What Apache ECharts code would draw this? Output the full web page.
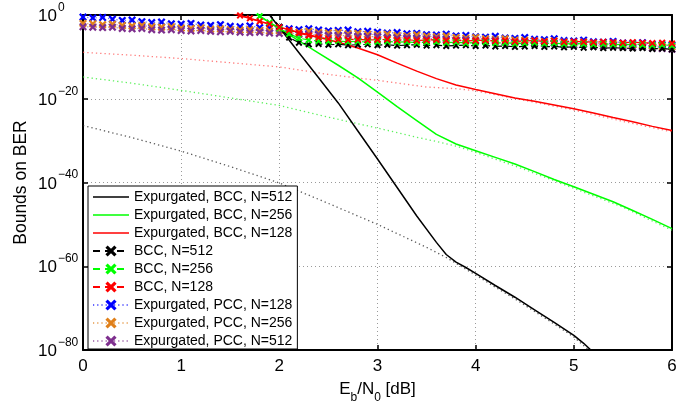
<!DOCTYPE html>
<html>
<head>
<meta charset="utf-8">
<script src="https://cdn.jsdelivr.net/npm/echarts@6/dist/echarts.min.js"></script>
<style>html,body{margin:0;padding:0;background:#fff;}#c{width:699px;height:412px;}</style>
</head>
<body>
<div id="c"></div>
<script>
// ---- data (y values are log10 of the BER bound; the y axis is drawn in decades) ----
const xTicks = [0, 1, 2, 3, 4, 5, 6];
const yTickExps = [0, -20, -40, -60, -80];

const pccX = [0.0,0.1,0.2,0.3,0.4,0.5,0.6,0.7,0.8,0.9,1.0,1.1,1.2,1.3,1.4,1.5,1.6,1.7,1.8,1.9,2.0,2.1,2.2,2.3,2.4,2.5,2.6,2.7,2.8,2.9,3.0,3.1,3.2,3.3,3.4,3.5,3.6,3.7,3.8,3.9,4.0,4.1,4.2,4.3,4.4,4.5,4.6,4.7,4.8,4.9,5.0,5.1,5.2,5.3,5.4,5.5,5.6,5.7,5.8,5.9,6.0];
const pcc128 = [-0.5,-0.7,-0.6,-1.0,-1.3,-1.2,-1.6,-1.8,-1.7,-2.1,-2.2,-2.0,-2.4,-2.5,-2.3,-2.7,-2.8,-2.6,-3.0,-3.1,-3.0,-3.3,-3.5,-3.3,-3.6,-3.8,-3.7,-3.6,-4.0,-3.9,-4.1,-4.3,-4.2,-4.5,-4.4,-4.7,-4.8,-4.6,-5.0,-4.9,-5.2,-5.3,-5.1,-5.5,-5.6,-5.4,-5.8,-5.9,-5.7,-6.1,-6.2,-6.0,-6.4,-6.5,-6.3,-6.7,-6.8,-6.6,-7.0,-7.1,-7.2];
const pcc256 = [-2.0,-2.1,-2.3,-2.2,-2.5,-2.6,-2.5,-2.8,-2.9,-2.8,-3.1,-3.2,-3.1,-3.4,-3.3,-3.5,-3.6,-3.5,-3.7,-3.8,-3.7,-4.0,-4.1,-3.9,-4.2,-4.3,-4.2,-4.5,-4.4,-4.6,-4.7,-4.6,-4.9,-5.0,-4.8,-5.1,-5.2,-5.1,-5.4,-5.5,-5.4,-5.7,-5.8,-5.7,-6.0,-6.0,-6.2,-6.3,-6.2,-6.5,-6.6,-6.5,-6.8,-6.9,-6.8,-7.1,-7.2,-7.1,-7.4,-7.5,-7.6];
const pcc512 = [-2.8,-2.9,-3.0,-2.9,-3.2,-3.3,-3.2,-3.5,-3.6,-3.5,-3.7,-3.8,-3.7,-3.9,-4.0,-3.9,-4.1,-4.2,-4.1,-4.3,-4.4,-4.3,-4.6,-4.7,-4.6,-4.9,-5.0,-4.9,-5.1,-5.2,-5.1,-5.4,-5.5,-5.4,-5.6,-5.7,-5.6,-5.9,-6.0,-5.9,-6.1,-6.2,-6.1,-6.4,-6.5,-6.4,-6.7,-6.8,-6.7,-7.0,-7.1,-7.0,-7.3,-7.4,-7.3,-7.6,-7.7,-7.6,-7.9,-8.0,-8.2];

const bcc512X = [1.8,1.9,2.0,2.1,2.2,2.3,2.4,2.5,2.6,2.7,2.8,2.9,3.0,3.1,3.2,3.3,3.4,3.5,3.6,3.7,3.8,3.9,4.0,4.1,4.2,4.3,4.4,4.5,4.6,4.7,4.8,4.9,5.0,5.1,5.2,5.3,5.4,5.5,5.6,5.7,5.8,5.9,6.0];
const bcc512 = [2.5,0.2,-2.8,-5.4,-6.6,-7.0,-6.9,-7.1,-7.0,-7.2,-7.1,-7.0,-7.2,-7.1,-7.3,-7.2,-7.1,-7.3,-7.2,-7.4,-7.3,-7.2,-7.4,-7.3,-7.5,-7.4,-7.6,-7.5,-7.4,-7.6,-7.5,-7.7,-7.6,-7.8,-7.7,-7.9,-7.8,-7.9,-8.0,-7.9,-8.1,-8.0,-8.2];
const bcc256X = [1.7,1.8,1.9,2.0,2.1,2.2,2.3,2.4,2.5,2.6,2.7,2.8,2.9,3.0,3.1,3.2,3.3,3.4,3.5,3.6,3.7,3.8,3.9,4.0,4.1,4.2,4.3,4.4,4.5,4.6,4.7,4.8,4.9,5.0,5.1,5.2,5.3,5.4,5.5,5.6,5.7,5.8,5.9,6.0];
const bcc256 = [1.2,-0.3,-1.8,-3.2,-4.5,-5.5,-6.0,-6.2,-6.3,-6.2,-6.4,-6.3,-6.5,-6.4,-6.3,-6.5,-6.4,-6.6,-6.5,-6.4,-6.6,-6.5,-6.7,-6.6,-6.5,-6.7,-6.6,-6.8,-6.7,-6.6,-6.8,-6.7,-6.9,-6.8,-6.9,-7.0,-6.9,-7.0,-7.1,-7.0,-7.1,-7.2,-7.1,-7.3];
const bcc128X = [1.5,1.6,1.7,1.8,1.9,2.0,2.1,2.2,2.3,2.4,2.5,2.6,2.7,2.8,2.9,3.0,3.1,3.2,3.3,3.4,3.5,3.6,3.7,3.8,3.9,4.0,4.1,4.2,4.3,4.4,4.5,4.6,4.7,4.8,4.9,5.0,5.1,5.2,5.3,5.4,5.5,5.6,5.7,5.8,5.9,6.0];
const bcc128 = [0.6,-0.1,-0.8,-1.5,-2.2,-2.9,-3.6,-4.3,-4.9,-5.4,-5.7,-5.8,-5.9,-5.8,-6.0,-5.9,-5.8,-6.0,-5.9,-6.1,-6.0,-5.9,-6.1,-6.0,-6.2,-6.1,-6.0,-6.2,-6.1,-6.3,-6.2,-6.1,-6.3,-6.2,-6.4,-6.3,-6.4,-6.5,-6.4,-6.5,-6.6,-6.5,-6.6,-6.7,-6.6,-6.8];

const exp512X = [1.8,1.9,2.0,2.2,2.4,2.6,2.8,3.0,3.2,3.4,3.6,3.7,3.8,3.9,4.0,4.2,4.4,4.6,4.8,5.0,5.1,5.2,5.3];
const exp512 = [3.0,0,-3.0,-9.0,-15.0,-21.0,-27.7,-34.4,-41.2,-48.0,-54.3,-57.2,-59.0,-60.3,-61.7,-64.6,-67.4,-70.4,-73.4,-76.5,-78.4,-80.6,-82.8];
const exp256X = [1.7,1.8,2.0,2.2,2.4,2.6,2.8,3.0,3.2,3.4,3.6,3.8,4.0,4.2,4.4,4.6,4.8,5.0,5.2,5.4,5.6,5.8,6.0];
const exp256 = [1.2,-0.3,-3.2,-6.2,-9.1,-12.0,-15.0,-18.4,-21.9,-25.2,-28.5,-30.8,-32.4,-34.0,-35.6,-37.4,-39.3,-41.0,-42.8,-44.6,-46.7,-48.8,-51.0];
const exp128X = [1.5,1.6,1.8,2.0,2.2,2.4,2.6,2.8,3.0,3.2,3.4,3.6,3.8,4.0,4.2,4.4,4.6,4.8,5.0,5.2,5.4,5.6,5.8,6.0];
const exp128 = [0.6,-0.1,-1.5,-2.9,-4.2,-5.3,-6.5,-7.9,-9.5,-11.5,-13.4,-15.2,-16.7,-17.8,-18.8,-19.8,-20.6,-21.5,-22.4,-23.4,-24.5,-25.5,-26.6,-27.6];

const ub512X = [0,0.5,1,1.5,2,2.5,3,3.5,3.7,3.9,4.0,4.2,4.4,4.6,4.8,5.0,5.2,5.3];
const ub512 = [-26.4,-29.3,-32.5,-36.2,-40.1,-45.0,-50.0,-55.5,-57.9,-60.7,-62.1,-65.0,-67.8,-70.8,-73.8,-76.9,-81.0,-83.0];
const ub256X = [0,0.5,1,1.5,2,2.5,3,3.4,3.6,3.8,4.0,4.5,5,5.5,6];
const ub256 = [-14.8,-16.3,-18.0,-19.8,-21.6,-24.4,-27.0,-29.2,-30.2,-31.3,-32.8,-36.9,-41.4,-45.9,-51.4];
const ub128X = [0,0.5,1,1.5,2,2.5,3,3.5,3.8,4.0,4.5,5,5.5,6];
const ub128 = [-8.9,-9.6,-10.4,-11.4,-12.4,-14.2,-15.6,-17.2,-17.6,-18.1,-20.4,-22.7,-25.4,-27.9];

const legendNames = ['Expurgated, BCC, N=512','Expurgated, BCC, N=256','Expurgated, BCC, N=128',
  'BCC, N=512','BCC, N=256','BCC, N=128',
  'Expurgated, PCC, N=128','Expurgated, PCC, N=256','Expurgated, PCC, N=512'];

// ---- helpers ----
const pts = (xs, es) => xs.map((x, i) => [x, es[i]]);
const FONT = "'Liberation Sans', Arial, Helvetica, sans-serif";
const XMARK = 'path://M0,2 L2,0 L5,3 L8,0 L10,2 L7,5 L10,8 L8,10 L5,7 L2,10 L0,8 L3,5 Z';
const LINEICON = 'path://M0,0 L36,0 L36,1.5 L0,1.5 Z';

function solid(name, xs, es, color) {
  return { name, type: 'line', data: pts(xs, es), showSymbol: false, symbol: 'none', clip: true,
    lineStyle: { color, width: 1.5 }, itemStyle: { color }, z: 4, animation: false };
}
function union(name, xs, es, color, op) {
  return { name, type: 'line', data: pts(xs, es), showSymbol: false, symbol: 'none', clip: true,
    lineStyle: { color, width: 1.3, type: [1.3, 3], opacity: op }, itemStyle: { color }, z: 2, animation: false };
}
function marked(name, xs, es, color, dash, size, z, lineOp) {
  return { name, type: 'line', data: pts(xs, es), symbol: XMARK, symbolSize: size, showAllSymbol: true, clip: true,
    lineStyle: { color, width: 1.2, type: dash, opacity: lineOp }, itemStyle: { color }, z, animation: false };
}

const series = [
  union('ub512', ub512X, ub512, '#222222', 0.75),
  union('ub256', ub256X, ub256, '#33ee33', 0.8),
  union('ub128', ub128X, ub128, '#ff4444', 0.7),
  marked(legendNames[6], pccX, pcc128, '#0000ff', [1.2, 3], 8, 3, 0.6),
  marked(legendNames[7], pccX, pcc256, '#e0801a', [1.2, 3], 8, 3, 0.6),
  marked(legendNames[8], pccX, pcc512, '#7e2f8e', [1.2, 3], 8, 3, 0.6),
  solid(legendNames[0], exp512X, exp512, '#000000'),
  solid(legendNames[1], exp256X, exp256, '#00ff00'),
  solid(legendNames[2], exp128X, exp128, '#ff0000'),
  marked(legendNames[3], bcc512X, bcc512, '#000000', [7, 5], 7, 5, 1),
  marked(legendNames[4], bcc256X, bcc256, '#00ff00', [7, 5], 7, 5, 1),
  marked(legendNames[5], bcc128X, bcc128, '#ff0000', [7, 5], 7, 5, 1)
];

const axisLine = { show: true, onZero: false, lineStyle: { color: '#000', width: 2 } };
const tick = { show: true, inside: true, length: 5, lineStyle: { color: '#000', width: 1.5 } };
const gridLine = { show: true, lineStyle: { color: '#9a9a9a', width: 1, type: [1, 3] } };

const option = {
  animation: false,
  backgroundColor: '#fff',
  textStyle: { fontFamily: FONT },
  grid: { left: 83, right: 27, top: 15, bottom: 62, containLabel: false, outerBoundsMode: 'none' },
  xAxis: [
    { type: 'value', min: 0, max: 6, interval: 1, position: 'bottom',
      axisLine, axisTick: tick, splitLine: gridLine,
      axisLabel: { color: '#000', fontSize: 17, margin: 8, fontFamily: FONT, showMinLabel: true, showMaxLabel: true, hideOverlap: false },
      name: '{a|E}{s|b}{a|/N}{s|0}{a| [dB]}', nameLocation: 'middle', nameGap: 31, nameMoveOverlap: false,
      nameTextStyle: { rich: {
        a: { fontSize: 17, verticalAlign: 'top', color: '#000', fontFamily: FONT },
        s: { fontSize: 12, verticalAlign: 'bottom', padding: [11, 0, 0, 0], color: '#000', fontFamily: FONT }
      } } },
    { type: 'value', min: 0, max: 6, interval: 1, position: 'top',
      axisLine, axisTick: tick, splitLine: { show: false }, axisLabel: { show: false } }
  ],
  yAxis: [
    { type: 'value', min: -80, max: 0, interval: 20, position: 'left',
      axisLine, axisTick: tick, splitLine: gridLine,
      axisLabel: { color: '#000', margin: 45, align: 'left', fontFamily: FONT,
        showMinLabel: true, showMaxLabel: true, hideOverlap: false,
        formatter: v => {
          const e = Math.round(v);
          if (yTickExps.indexOf(e) < 0) return '';
          return '{b|10}{e|' + (e === 0 ? '0' : '\u2212' + (-e)) + '}';
        },
        rich: {
          b: { fontSize: 17, lineHeight: 14, verticalAlign: 'top', color: '#000', fontFamily: FONT },
          e: { fontSize: 12, lineHeight: 14, verticalAlign: 'bottom', padding: [0, 0, 8.5, 1], color: '#000', fontFamily: FONT }
        } },
      name: 'Bounds on BER', nameLocation: 'middle', nameGap: 53, nameRotate: 90, nameMoveOverlap: false,
      nameTextStyle: { fontSize: 17.5, color: '#000', fontFamily: FONT } },
    { type: 'value', min: -80, max: 0, interval: 20, position: 'right',
      axisLine, axisTick: tick, splitLine: { show: false }, axisLabel: { show: false } }
  ],
  legend: {
    data: legendNames.map((n, i) => (i < 3 ? { name: n, icon: LINEICON } : { name: n })),
    orient: 'vertical', left: 88, top: 186, z: 20,
    backgroundColor: '#fff', borderColor: '#000', borderWidth: 1, borderRadius: 0,
    padding: [4, 5, 1, 4], itemGap: 4, itemWidth: 36, itemHeight: 14,
    textStyle: { fontSize: 14, color: '#000', fontFamily: FONT, lineHeight: 14 },
    selectedMode: false
  },
  series
};

const chart = echarts.init(document.getElementById('c'), null, { renderer: 'canvas' });
chart.setOption(option);
</script>
</body>
</html>
